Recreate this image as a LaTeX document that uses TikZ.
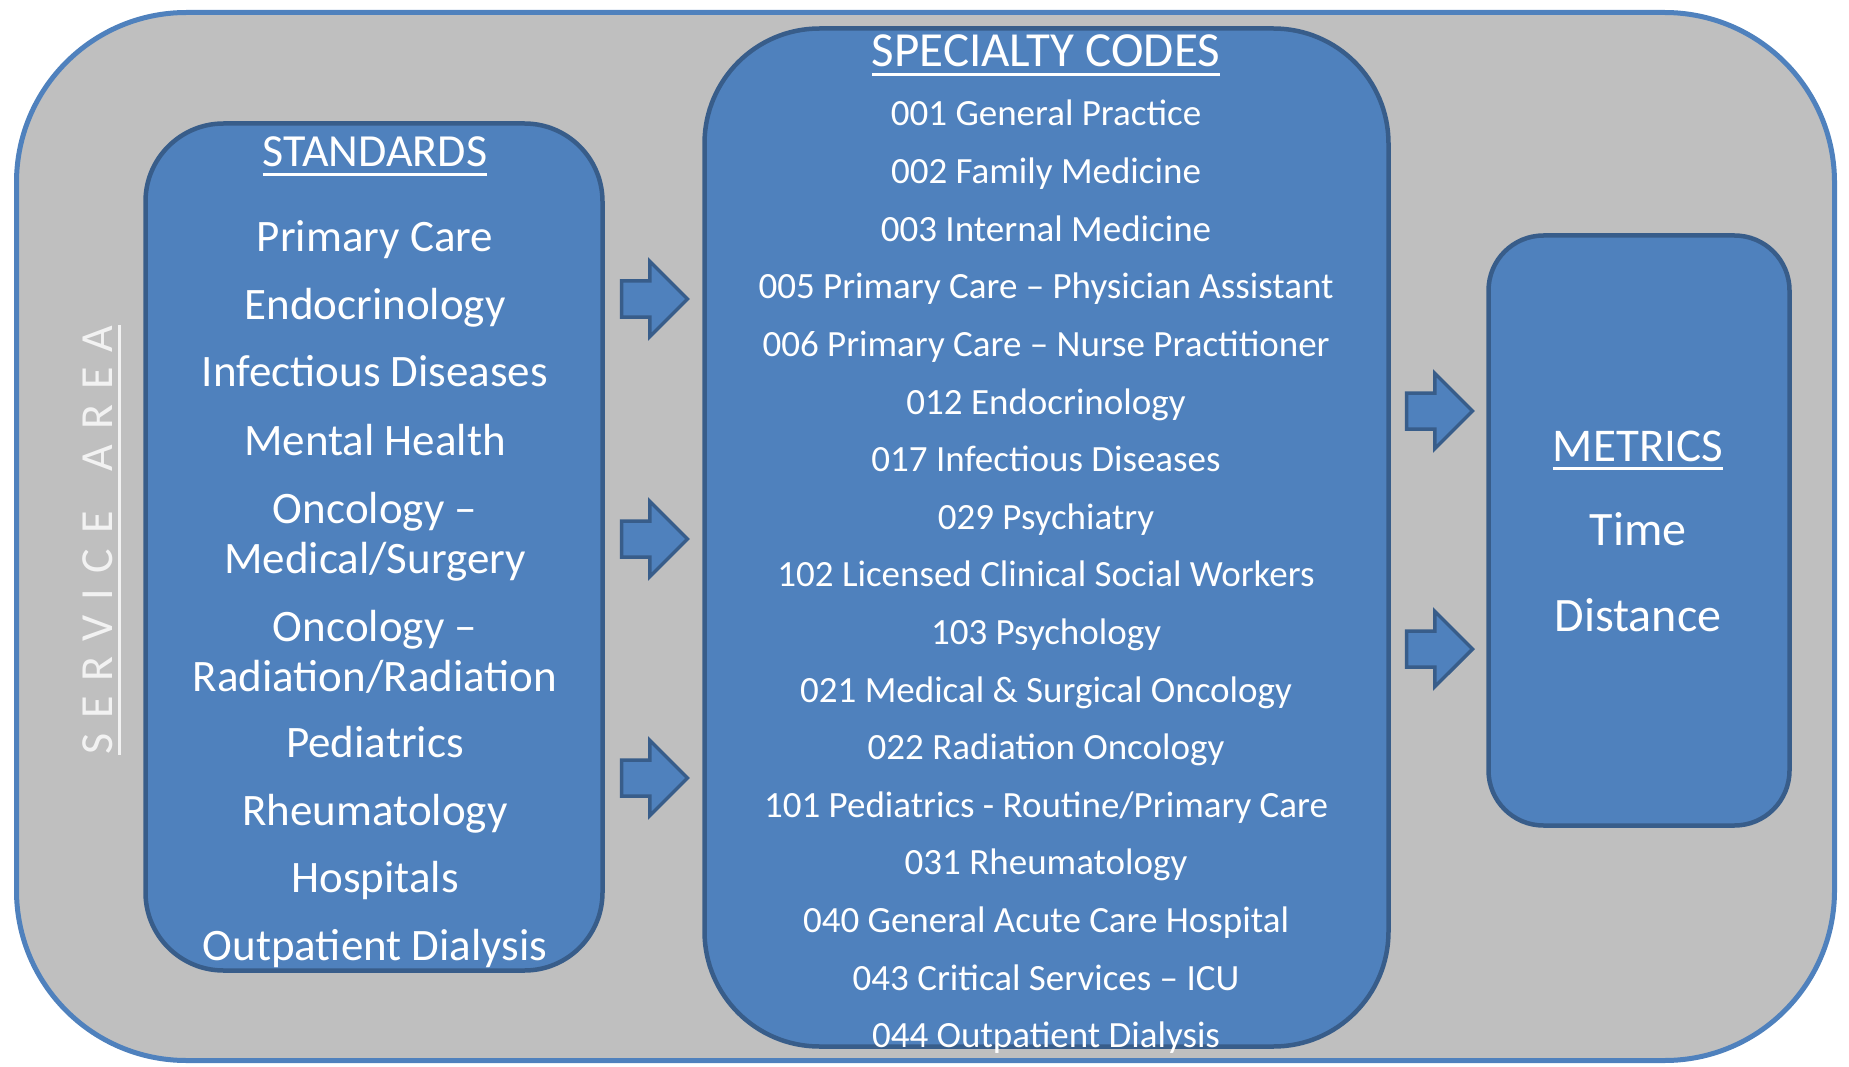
\documentclass[tikz,border=0pt]{standalone}
\usepackage{fontspec}
\setmainfont{Carlito}
\usetikzlibrary{calc,positioning,shapes.arrows}
\definecolor{AreaGray}{HTML}{BFBFBF}
\definecolor{AreaBlue}{HTML}{4F81BD}
\definecolor{PanelBlue}{HTML}{4F81BD}
\definecolor{PanelEdge}{HTML}{385D8A}
\definecolor{AreaLabel}{HTML}{F2F2F2}
\newcommand\areagap{\kern15pt}
\newcommand\headline[1]{\setbox0=\hbox{#1}\rlap{\rule[-9pt]{\wd0}{2.6pt}}\box0}

\begin{document}
\begin{tikzpicture}[
    x=1pt,y=-1pt,
    area/.style={draw=AreaBlue,fill=AreaGray,line width=5pt,inner sep=0pt},
    panel/.style={draw=PanelEdge,fill=PanelBlue,line width=4.5pt,inner sep=0pt},
    paneltext/.style={anchor=base,text=white,inner sep=0pt},
    blockarrow/.style={
      single arrow,
      draw=PanelEdge,
      fill=PanelBlue,
      line width=3.5pt,
      inner xsep=0pt,
      inner ysep=16.25pt,
      minimum height=66pt,
      single arrow head extend=19.75pt,
      xshift=-8pt
    }
  ]

    \useasboundingbox (0,0) rectangle (1849,1067);

    \node[
      area,
      rounded corners=170pt,
      minimum width=1818pt,
      minimum height=1048pt
    ]
      (area) at (925.5,536.5) {};

    \node[
      panel,
      rounded corners=78pt,
      minimum width=457pt,
      minimum height=847pt
    ]
      (std) at (374,547) {};

    \node[
      panel,
      rounded corners=115pt,
      minimum width=684pt,
      minimum height=1018pt
    ]
      (spec) at (1046.5,537.5) {};

    \node[
      panel,
      rounded corners=55pt,
      minimum width=301pt,
      minimum height=590pt
    ]
      (met) at (1639,530.5) {};

    \node[
      rotate=90,
      anchor=base,
      inner sep=0pt,
      text=AreaLabel,
      font=\fontsize{46}{55}\selectfont
    ]
      (arealabel) at (112,540)
      {\headline{S\areagap E\areagap R\areagap V\areagap I\areagap C\areagap E\areagap\ \areagap A\areagap R\areagap E\areagap A}};

    \node[paneltext,font=\fontsize{46}{55}\selectfont]
      (stdhead) at (375,167) {\headline{STANDARDS}};

    \foreach \yy/\entry [count=\i] in {
      252/Primary Care,
      319/Endocrinology,
      386/Infectious Diseases,
      455/Mental Health,
      523/Oncology --,
      573/{Medical/Surgery},
      641/Oncology --,
      691/{Radiation/Radiation},
      757/Pediatrics,
      825/Rheumatology,
      892/Hospitals,
      960/Outpatient Dialysis
    }{
      \node[paneltext,font=\fontsize{45}{54}\selectfont]
        (std\i) at (375,\yy) {\entry};
    }

    \node[paneltext,font=\fontsize{49}{58}\selectfont]
      (spechead) at (1046,67) {\headline{SPECIALTY CODES}};

    \foreach \code [count=\i] in {
      001 General Practice,
      002 Family Medicine,
      003 Internal Medicine,
      005 Primary Care -- Physician Assistant,
      006 Primary Care -- Nurse Practitioner,
      012 Endocrinology,
      017 Infectious Diseases,
      029 Psychiatry,
      102 Licensed Clinical Social Workers,
      103 Psychology,
      021 Medical \& Surgical Oncology,
      022 Radiation Oncology,
      {101 Pediatrics - Routine/Primary Care},
      031 Rheumatology,
      040 General Acute Care Hospital,
      043 Critical Services -- ICU,
      044 Outpatient Dialysis
    }{
      \pgfmathsetmacro{\yy}{126+57.6*(\i-1)}
      \node[paneltext,font=\fontsize{37}{44}\selectfont]
        (code\i) at (1046,\yy) {\code};
    }

    \node[paneltext,font=\fontsize{47}{56}\selectfont]
      (methead) at (1638,461) {\headline{METRICS}};
    \node[paneltext,font=\fontsize{48}{57}\selectfont]
      (mettime) at (1638,545) {Time};
    \node[paneltext,font=\fontsize{48}{57}\selectfont]
      (metdist) at (1638,631) {Distance};

    \coordinate (gapleft) at ($(std.east)!0.5!(spec.west)$);
    \coordinate (gapright) at ($(spec.east)!0.5!(met.west)$);

    \foreach \yy [count=\i] in {299,539,778}{
      \node[blockarrow] (tocodes\i) at (gapleft |- 0,\yy) {};
    }

    \foreach \yy [count=\i] in {411,649}{
      \node[blockarrow] (tometrics\i) at (gapright |- 0,\yy) {};
    }

  \end{tikzpicture}
\end{document}
